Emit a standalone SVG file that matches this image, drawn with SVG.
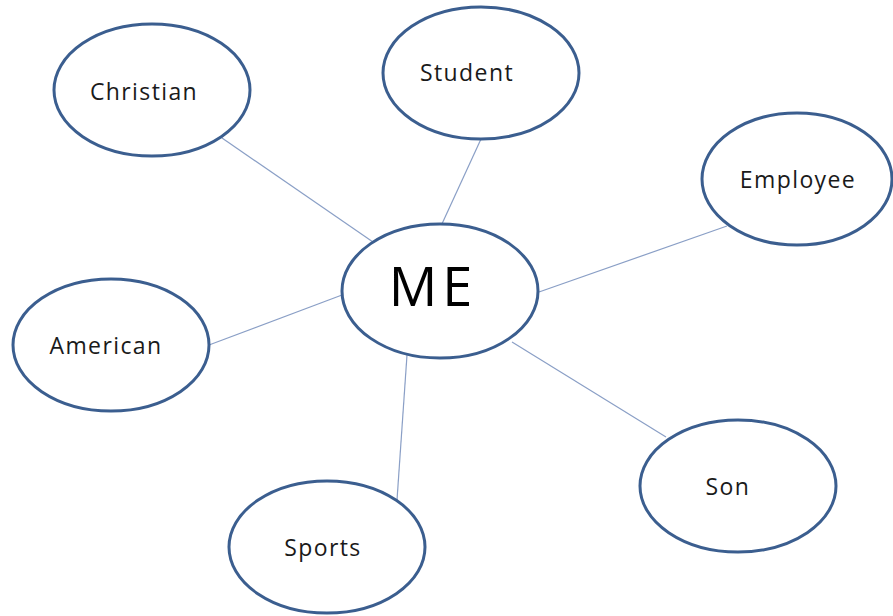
<svg xmlns="http://www.w3.org/2000/svg" width="893" height="616" viewBox="0 0 893 616">
  <style>
    .bubble { fill: #ffffff; stroke: #3b5e8f; stroke-width: 3; }
    .link { stroke: #8a9fc6; stroke-width: 1.2; fill: none; }
    .label { font-family: "Open Sans", "Liberation Sans", sans-serif; font-size: 23px; letter-spacing: 1.4px; fill: #1a1a1a; text-anchor: middle; }
    .hub { font-size: 54px; letter-spacing: 5px; fill: #000000; }
  </style>
  <rect width="893" height="616" fill="#ffffff"/>
  <g id="connectors">
    <line class="link" x1="222" y1="138" x2="373" y2="242"/>
    <line class="link" x1="481" y1="139" x2="441" y2="226"/>
    <line class="link" x1="727" y1="226" x2="539" y2="292"/>
    <line class="link" x1="209" y1="345" x2="342" y2="295"/>
    <line class="link" x1="397" y1="500" x2="407" y2="355"/>
    <line class="link" x1="666" y1="437" x2="512" y2="342"/>
  </g>
  <g id="christian">
    <ellipse class="bubble" cx="152" cy="90" rx="98" ry="66"/>
    <text class="label" x="144" y="100">Christian</text>
  </g>
  <g id="student">
    <ellipse class="bubble" cx="481" cy="73" rx="98" ry="66"/>
    <text class="label" x="467" y="81">Student</text>
  </g>
  <g id="employee">
    <ellipse class="bubble" cx="797" cy="179" rx="95" ry="66"/>
    <text class="label" x="798" y="188">Employee</text>
  </g>
  <g id="me">
    <ellipse class="bubble" cx="440" cy="291" rx="98" ry="67"/>
    <text class="label hub" x="433" y="306">ME</text>
  </g>
  <g id="american">
    <ellipse class="bubble" cx="111" cy="345" rx="98" ry="66"/>
    <text class="label" x="106" y="354">American</text>
  </g>
  <g id="sports">
    <ellipse class="bubble" cx="327" cy="547" rx="98" ry="66"/>
    <text class="label" x="323" y="556">Sports</text>
  </g>
  <g id="son">
    <ellipse class="bubble" cx="738" cy="486" rx="98" ry="66"/>
    <text class="label" x="728" y="495">Son</text>
  </g>
</svg>
